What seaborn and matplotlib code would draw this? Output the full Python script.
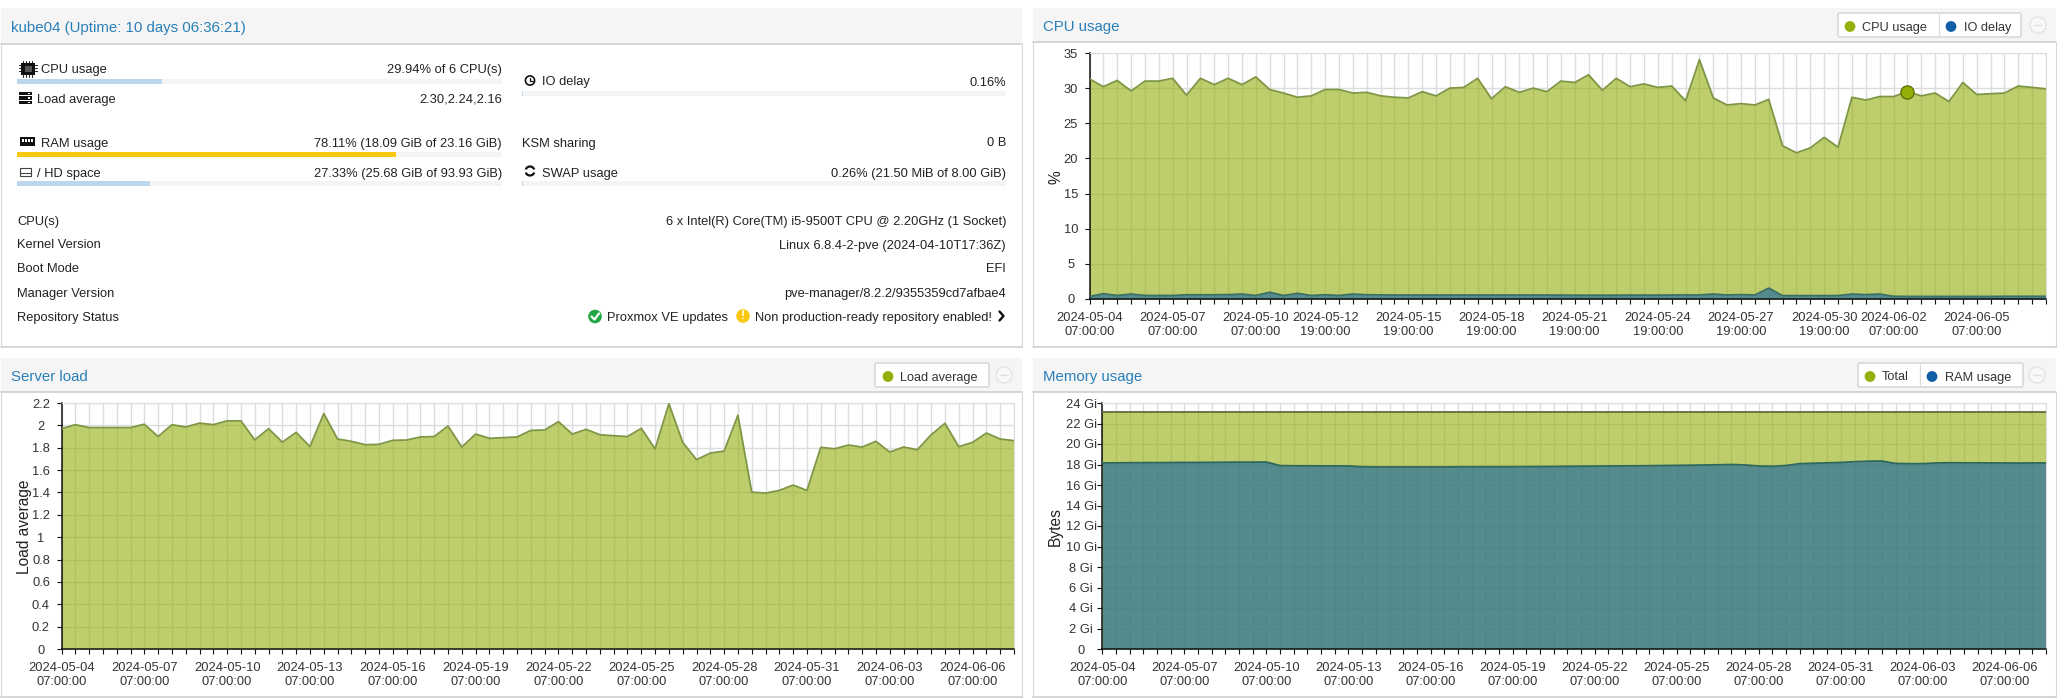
import numpy as np
import pandas as pd
import seaborn as sns
import matplotlib
matplotlib.use("Agg")
import matplotlib.pyplot as plt
from matplotlib.patches import Rectangle, Circle, Arc, FancyBboxPatch

# ---------------- data ----------------
cpu_usage = [31.3, 30.2, 31.1, 29.6, 31.0, 31.0, 31.4, 29.0, 31.4, 30.5, 31.4, 30.5, 31.6, 29.8, 29.3, 28.7, 28.9, 29.8,
             29.8, 29.3, 29.4, 28.9, 28.7, 28.6, 29.5, 28.9, 30.0, 30.1, 31.4, 28.5, 30.2, 29.4, 30.0, 29.5, 31.0, 30.8,
             31.9, 29.7, 31.4, 30.2, 30.6, 30.1, 30.3, 28.2, 34.05, 28.6, 27.6, 27.8, 27.6, 28.4, 21.8, 20.8, 21.5, 23.0,
             21.6, 28.7, 28.3, 28.8, 28.8, 29.5, 28.9, 29.3, 28.1, 30.8, 29.1, 29.2, 29.3, 30.3, 30.1, 29.9]
io_delay = [.35, .75, .5, .7, .5, .5, .5, .6, .6, .6, .62, .7, .5, .95, .5, .8, .5, .6, .5, .7, .6, .58, .56, .56, .56,
            .56, .56, .56, .56, .56, .56, .56, .56, .56, .55, .54, .54, .54, .54, .55, .55, .55, .56, .58, .57, .7, .57,
            .62, .57, 1.55, .48, .48, .48, .48, .48, .7, .62, .7, .38, .36, .36, .36, .36, .36, .36, .36, .38, .38, .38, .38]
load_avg = [1.97, 2.006, 1.98, 1.98, 1.98, 1.98, 2.01, 1.90, 2.006, 1.985, 2.02, 2.006, 2.04, 2.04, 1.87, 1.97, 1.85,
            1.937, 1.81, 2.105, 1.878, 1.857, 1.827, 1.83, 1.866, 1.869, 1.896, 1.90, 1.994, 1.806, 1.922, 1.884, 1.89,
            1.896, 1.955, 1.958, 2.033, 1.922, 1.964, 1.916, 1.907, 1.90, 1.973, 1.79, 2.194, 1.848, 1.693, 1.752, 1.77,
            2.09, 1.403, 1.394, 1.418, 1.466, 1.418, 1.803, 1.79, 1.824, 1.806, 1.857, 1.761, 1.806, 1.782, 1.916, 2.018,
            1.809, 1.848, 1.931, 1.878, 1.863]
mem_total = [23.16] * 70
mem_used = [18.15, 18.16, 18.17, 18.18, 18.18, 18.19, 18.2, 18.2, 18.21, 18.22, 18.23, 18.23, 18.24, 17.89, 17.87, 17.87,
            17.86, 17.86, 17.85, 17.78, 17.76, 17.76, 17.76, 17.76, 17.76, 17.76, 17.77, 17.77, 17.78, 17.78, 17.78, 17.79,
            17.80, 17.80, 17.82, 17.83, 17.84, 17.85, 17.86, 17.87, 17.88, 17.90, 17.91, 17.93, 17.95, 17.97, 18.0, 17.95,
            17.85, 17.82, 17.9, 18.08, 18.12, 18.16, 18.2, 18.27, 18.32, 18.34, 18.1, 18.08, 18.08, 18.15, 18.17, 18.16,
            18.16, 18.15, 18.15, 18.14, 18.15, 18.15]
hover_index = [59]
dates = pd.date_range("2024-05-04 07:00:00", periods=70, freq="12h").to_pydatetime()
cpu_label_idx = [0, 6, 12, 17, 23, 29, 35, 41, 47, 53, 58, 64]
six_label_idx = [0, 6, 12, 18, 24, 30, 36, 42, 48, 54, 60, 66]
cpu_yticks = [0, 5, 10, 15, 20, 25, 30, 35]
load_yticks = [0, .2, .4, .6, .8, 1, 1.2, 1.4, 1.6, 1.8, 2, 2.2]
mem_yticks = [0, 2, 4, 6, 8, 10, 12, 14, 16, 18, 20, 22, 24]

status_fracs = {"cpu": .2994, "ram": .7811, "hd": .2733, "io": .0016, "swap": .0026}

W, H = 2059, 698
OLIVE, BLUE = "#94ae0a", "#115fa6"
LINK = "#2a7fba"
TXT = "#222222"
GRID = "#dcdcdc"

sns.set_style("white")
plt.rcParams["font.family"] = ["Liberation Sans", "DejaVu Sans"]
plt.rcParams["axes.unicode_minus"] = False

fig = plt.figure(figsize=(W / 100, H / 100), dpi=100, facecolor="white")
bg = fig.add_axes([0, 0, 1, 1], zorder=0)
bg.set_xlim(0, W)
bg.set_ylim(H, 0)
bg.axis("off")


def panel(l, r, t, hb, b, title):
    bg.add_patch(Rectangle((l, t), r - l, hb - t, fc="#f5f5f5", ec="none"))
    bg.plot([l, r], [hb, hb], color="#cfcfcf", lw=1.2)
    bg.plot([l, l], [hb, b], color="#d8d8d8", lw=.8)
    bg.plot([r, r], [hb, b], color="#d8d8d8", lw=.8)
    bg.plot([l, r], [b, b], color="#cfcfcf", lw=1.2)
    bg.text(l + 10, (t + hb) / 2 + 0.5, title, color=LINK, fontsize=10.8, va="center_baseline", ha="left")


panel(1, 1022, 8, 44, 347, "kube04 (Uptime: 10 days 06:36:21)")
panel(1033, 2056, 8, 42, 347, "CPU usage")
panel(1, 1022, 358, 392, 697, "Server load")
panel(1033, 2056, 358, 392, 697, "Memory usage")


def t(x, y, s, ha="left", **kw):
    kw.setdefault("fontsize", 9.3)
    kw.setdefault("color", TXT)
    bg.text(x, y, s, ha=ha, va="center_baseline", **kw)


def bar(x0, x1, y0, frac, color):
    bg.barh([y0 + 2.5], [x1 - x0], left=x0, height=5, color="#f4f4f4", lw=0)
    bg.barh([y0 + 2.5], [(x1 - x0) * frac], left=x0, height=5, color=color, lw=0)


LB = "#bcd6ee"
D = 1  # text offset
# left column of the status panel
t(41, 68 + D, "CPU usage")
t(502, 68 + D, "29.94% of 6 CPU(s)", "right")
bar(17, 502, 79, status_fracs["cpu"], LB)
t(37, 97 + D, "Load average")
t(502, 97 + D, "2.30,2.24,2.16", "right")
t(41, 141 + D, "RAM usage")
t(502, 141 + D, "78.11% (18.09 GiB of 23.16 GiB)", "right")
bar(17, 502, 152, status_fracs["ram"], "#f8c70f")
t(37, 171 + D, "/ HD space")
t(502, 171 + D, "27.33% (25.68 GiB of 93.93 GiB)", "right")
bar(17, 502, 181, status_fracs["hd"], LB)
# right column
t(542, 80 + D, "IO delay")
t(1006, 80 + D, "0.16%", "right")
bar(522, 1006, 91, status_fracs["io"], LB)
t(522, 141 + D, "KSM sharing")
t(1006, 141 + D, "0 B", "right")
t(542, 171 + D, "SWAP usage")
t(1006, 171 + D, "0.26% (21.50 MiB of 8.00 GiB)", "right")
bar(522, 1006, 181, status_fracs["swap"], LB)

rows = [(219, "CPU(s)", "6 x Intel(R) Core(TM) i5-9500T CPU @ 2.20GHz (1 Socket)"),
        (243, "Kernel Version", "Linux 6.8.4-2-pve (2024-04-10T17:36Z)"),
        (267, "Boot Mode", "EFI"),
        (291, "Manager Version", "pve-manager/8.2.2/9355359cd7afbae4")]
for y, a, b in rows:
    t(17, y + D, a)
    t(1006, y + D, b, "right")
t(17, 315 + D, "Repository Status")
t(607, 315 + D, "Proxmox VE updates")
t(755, 315 + D, "Non production-ready repository enabled!")

# status icons
bg.add_patch(Rectangle((21, 63), 14, 12, fc="#111111", ec="none"))
bg.add_patch(Rectangle((24.5, 66), 7, 6, fc="#555555", ec="none"))
for yy in (60.5, 75):
    for xx in (23, 26, 29, 32):
        bg.plot([xx, xx], [yy, yy + 2], color="#111111", lw=.7)
for xx0 in (19, 35):
    for yy in (65, 68, 71):
        bg.plot([xx0, xx0 + 2], [yy, yy], color="#111111", lw=.7)
for yy in (93.5, 98, 102.5):
    bg.add_patch(Rectangle((19, yy - 1.7), 13, 3.4, fc="#111111", ec="none"))
    bg.add_patch(Rectangle((28, yy - .7), 2, 1.4, fc="white", ec="none"))
bg.add_patch(Rectangle((20, 137), 15, 9, fc="#111111", ec="none"))
for xx in (22, 25, 28, 31):
    bg.add_patch(Rectangle((xx, 139), 2, 3, fc="white", ec="none"))
bg.add_patch(Rectangle((20, 167.5), 11, 8.5, fc="white", ec="#444444", lw=.8))
bg.plot([20, 31], [172.5, 172.5], color="#444444", lw=.8)
bg.add_patch(Circle((530, 80.5), 4.6, fc="white", ec="#111111", lw=1.2))
bg.plot([530, 530, 532.5], [77.5, 80.5, 80.5], color="#111111", lw=.9)
bg.add_patch(Arc((530, 171), 9, 9, theta1=20, theta2=160, color="#111111", lw=1.6))
bg.add_patch(Arc((530, 171), 9, 9, theta1=200, theta2=340, color="#111111", lw=1.6))
bg.add_patch(Circle((595, 316.5), 6.8, fc="#21a845", ec="none"))
bg.plot([591.5, 594.5, 599], [316.5, 319.5, 313.5], color="white", lw=1.6)
bg.add_patch(Circle((743, 316), 6.8, fc="#f8c70f", ec="none"))
bg.text(743, 316, "!", color="white", ha="center", va="center", fontsize=8.5, fontweight="bold")
bg.plot([999.5, 1003.5, 999.5], [311.5, 316, 320.5], color="#111111", lw=1.7)


def legend_box(x0, x1, y0, divider, entries, circ_x):
    bg.add_patch(FancyBboxPatch((x0, y0), x1 - x0, 24, boxstyle="round,pad=0,rounding_size=2",
                                fc="white", ec="#cfcfcf", lw=.9))
    if divider:
        bg.plot([divider, divider], [y0, y0 + 24], color="#dddddd", lw=.9)
    for dx, tx, label, col in entries:
        bg.add_patch(Circle((dx, y0 + 13.5), 5.4, fc=col, ec="none"))
        t(tx, y0 + 13, label, fontsize=9.2, color="#333333")
    bg.add_patch(Circle((circ_x, y0 + 12), 8, fc="#f8f8f8", ec="#e2e2e2", lw=.9))
    bg.plot([circ_x - 4, circ_x + 4], [y0 + 12, y0 + 12], color="#e0e0e0", lw=.9)


legend_box(1838, 2021, 13, 1939, [(1850, 1862, "CPU usage", OLIVE), (1951, 1964, "IO delay", BLUE)], 2038)
legend_box(875, 989, 363, None, [(888, 899.5, "Load average", OLIVE)], 1004)
legend_box(1858, 2023, 363, 1920, [(1870, 1882, "Total", OLIVE), (1932, 1945, "RAM usage", BLUE)], 2037)


def chart(l, r, tp, b, yticks, ylabels, label_idx, ylab, ylab_x, center_x, series):
    ax = fig.add_axes([l / W, 1 - b / H, (r - l) / W, (b - tp) / H], zorder=2)
    ax.patch.set_alpha(0)
    ax.set_axisbelow(True)
    for s, col, lc in series:
        ax.fill_between(dates, s, 0, color=col, alpha=.6, lw=0, zorder=2)
        sns.lineplot(x=dates, y=s, color=lc, lw=1.3, ax=ax, errorbar=None, legend=False, zorder=3)
    ax.set_xlim(dates[0], dates[-1])
    ax.set_ylim(yticks[0], yticks[-1])
    ax.set_yticks(yticks)
    ax.set_yticklabels(ylabels)
    ax.set_xticks(list(dates))
    ax.set_xticklabels([dates[i].strftime("%Y-%m-%d\n%H:%M:%S") if i in label_idx else "" for i in range(len(dates))],
                       linespacing=1.28)
    ax.grid(True, color=GRID, lw=1.0, zorder=0)
    for k in ("top", "right"):
        ax.spines[k].set_visible(True)
        ax.spines[k].set_color(GRID)
        ax.spines[k].set_linewidth(.8)
    for k in ("left", "bottom"):
        ax.spines[k].set_visible(True)
        ax.spines[k].set_color("#111111")
        ax.spines[k].set_linewidth(1.1)
    tick_pt = 5 * .72
    ax.tick_params(axis="x", length=tick_pt, width=.8, color="#111111", pad=5.5, labelsize=9.3, labelcolor="#333333",
                   bottom=True)
    ax.tick_params(axis="y", length=tick_pt, width=.8, color="#111111", labelsize=9.3, labelcolor="#333333", left=True,
                   pad=(l - center_x - 5) * .72)
    for lab in ax.get_yticklabels():
        lab.set_ha("center")
    ax.set_xlabel("")
    ax.set_ylabel("")
    bg.text(ylab_x, (tp + b) / 2 + 1, ylab, rotation=90, ha="center", va="center", fontsize=11.2, color="#222222")
    return ax


ax_cpu = chart(1089.5, 2046, 53, 299, cpu_yticks, [str(v) for v in cpu_yticks], cpu_label_idx, "%", 1056, 1071,
               [(cpu_usage, OLIVE, "#7f9645"), (io_delay, BLUE, "#3a6f66")])
sns.scatterplot(x=[dates[i] for i in hover_index], y=[cpu_usage[i] for i in hover_index], s=90, color=OLIVE,
                edgecolor="#5f7206", linewidth=1, ax=ax_cpu, zorder=5, clip_on=False, legend=False)
ax_cpu.set_xlabel("")
ax_cpu.set_ylabel("")

chart(61.5, 1014, 403, 649, load_yticks, [f"{v:g}" for v in load_yticks], six_label_idx, "Load average", 25, 41,
      [(load_avg, OLIVE, "#7f9645")])
chart(1102.3, 2046, 403, 649, mem_yticks, [f"{v} Gi" if v else "0" for v in mem_yticks], six_label_idx, "Bytes", 1055,
      1081, [(mem_total, OLIVE, "#5f6f35"), (mem_used, BLUE, "#2e6760")])

fig.savefig("out.png", dpi=100, facecolor="white")
